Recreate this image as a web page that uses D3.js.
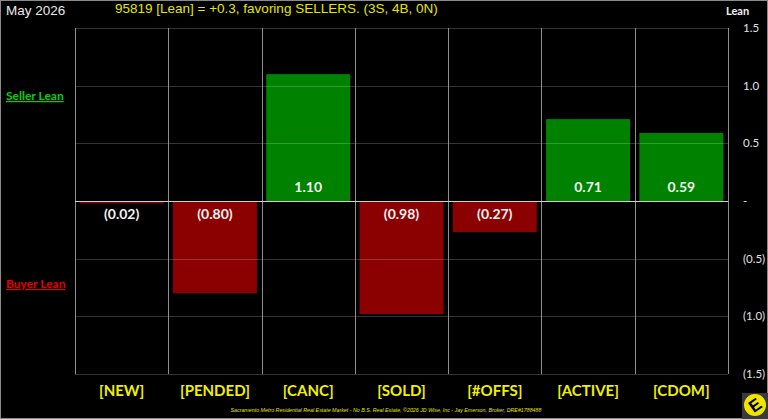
<!DOCTYPE html>
<html>
<head>
<meta charset="utf-8">
<script src="https://cdn.jsdelivr.net/npm/d3@7"></script>
<style>
  body { margin: 0; background: #000; }
  svg { display: block; }
</style>
</head>
<body>
<svg></svg>
<script>
var categories = ["[NEW]", "[PENDED]", "[CANC]", "[SOLD]", "[#OFFS]", "[ACTIVE]", "[CDOM]"];
var values = [-0.02, -0.80, 1.10, -0.98, -0.27, 0.71, 0.59];
var yTicks = [1.5, 1.0, 0.5, 0, -0.5, -1.0, -1.5];
var yTickLabels = ["1.5", "1.0", "0.5", "-", "(0.5)", "(1.0)", "(1.5)"];

var svgWidth = 768, svgHeight = 419;
var margin = {top: 28, right: 40, bottom: 45, left: 75};
var plotW = svgWidth - margin.left - margin.right,
    plotH = svgHeight - margin.top - margin.bottom;

var svg = d3.select("svg")
    .attr("width", svgWidth)
    .attr("height", svgHeight)
    .style("font-family", "Lato, 'Open Sans', sans-serif");

svg.append("rect")
    .attr("x", 0.5).attr("y", 0.5)
    .attr("width", svgWidth - 1).attr("height", svgHeight - 1)
    .attr("fill", "#000")
    .attr("stroke", "#8a8a8a");

var x = d3.scaleBand()
    .domain(categories)
    .range([0, plotW])
    .paddingInner(0.1)
    .paddingOuter(0.05);

var y = d3.scaleLinear()
    .domain([-1.5, 1.5])
    .range([plotH, 0]);

var g = svg.append("g")
    .attr("transform", "translate(" + margin.left + "," + margin.top + ")");

// bars
g.selectAll("rect.bar")
    .data(values)
    .enter()
    .append("rect")
    .attr("class", "bar")
    .attr("x", function(d, i) { return x(categories[i]); })
    .attr("width", x.bandwidth())
    .attr("y", function(d) { return y(Math.max(0, d)); })
    .attr("height", function(d) { return Math.max(1.5, Math.abs(y(d) - y(0))); })
    .attr("fill", function(d) { return d >= 0 ? "#008200" : "#8b0000"; });

// horizontal grid lines (drawn over bars, faint)
g.selectAll("line.hgrid")
    .data(yTicks.filter(function(d) { return d !== 0; }))
    .enter()
    .append("line")
    .attr("x1", 0).attr("x2", plotW)
    .attr("y1", function(d) { return Math.round(y(d)) + 0.5; })
    .attr("y2", function(d) { return Math.round(y(d)) + 0.5; })
    .attr("stroke", "#ffffff")
    .attr("stroke-opacity", 0.2);

// vertical category dividers
var bounds = d3.range(categories.length + 1).map(function(i) { return i * plotW / categories.length; });
g.selectAll("line.vgrid")
    .data(bounds)
    .enter()
    .append("line")
    .attr("x1", function(d) { return Math.round(d) + 0.5; })
    .attr("x2", function(d) { return Math.round(d) + 0.5; })
    .attr("y1", 0).attr("y2", plotH)
    .attr("stroke", "#a8a8a8")
    .attr("stroke-opacity", 0.85);

// zero line
g.append("line")
    .attr("x1", 0).attr("x2", plotW)
    .attr("y1", Math.round(y(0)) + 0.5).attr("y2", Math.round(y(0)) + 0.5)
    .attr("stroke", "#cfcfcf");

// value labels
function fmt(v) {
    return v < 0 ? "(" + Math.abs(v).toFixed(2) + ")" : v.toFixed(2);
}
g.selectAll("text.val")
    .data(values)
    .enter()
    .append("text")
    .attr("class", "val")
    .attr("x", function(d, i) { return x(categories[i]) + x.bandwidth() / 2; })
    .attr("y", function(d) { return d >= 0 ? y(0) - 9 : y(0) + 18; })
    .attr("text-anchor", "middle")
    .attr("fill", "#f2f2f2")
    .attr("font-weight", "bold")
    .attr("font-size", 14)
    .text(fmt);

// category labels
g.selectAll("text.cat")
    .data(categories)
    .enter()
    .append("text")
    .attr("x", function(d) { return x(d) + x.bandwidth() / 2; })
    .attr("y", plotH + 22)
    .attr("text-anchor", "middle")
    .attr("fill", "#f0f000")
    .attr("font-weight", "bold")
    .attr("font-size", 15)
    .text(function(d) { return d; });

// right axis labels
g.selectAll("text.ytick")
    .data(yTicks)
    .enter()
    .append("text")
    .attr("x", plotW + 15)
    .attr("y", function(d) { return y(d) + 4; })
    .attr("fill", "#e0e0e0")
    .attr("font-size", 11.5)
    .text(function(d, i) { return yTickLabels[i]; });

svg.append("text")
    .attr("x", 726).attr("y", 15)
    .attr("fill", "#f2f2f2")
    .attr("font-weight", "bold")
    .attr("font-size", 11)
    .text("Lean");

// titles
svg.append("text")
    .attr("x", 6).attr("y", 15)
    .attr("fill", "#e8e8e8")
    .attr("font-family", "'Liberation Sans', Arial, sans-serif")
    .attr("font-size", 13.5)
    .text("May 2026");

svg.append("text")
    .attr("x", 115).attr("y", 13)
    .attr("fill", "#e6e600")
    .attr("font-family", "'Liberation Sans', Arial, sans-serif")
    .attr("font-size", 13.5)
    .text("95819 [Lean] = +0.3, favoring SELLERS. (3S, 4B, 0N)");

// side lean labels
svg.append("text")
    .attr("x", 6).attr("y", 100)
    .attr("fill", "#00d000")
    .attr("font-weight", "bold")
    .attr("font-size", 12)
    .attr("text-decoration", "underline")
    .text("Seller Lean");

svg.append("text")
    .attr("x", 6).attr("y", 288)
    .attr("fill", "#e00000")
    .attr("font-weight", "bold")
    .attr("font-size", 12)
    .attr("text-decoration", "underline")
    .text("Buyer Lean");

// footer
svg.append("text")
    .attr("x", 386).attr("y", 412)
    .attr("text-anchor", "middle")
    .attr("fill", "#e6e600")
    .attr("font-family", "'Liberation Sans', Arial, sans-serif")
    .attr("font-style", "italic")
    .attr("font-size", 5.3)
    .text("Sacramento Metro Residential Real Estate Market - No B.S. Real Estate, \u00a92026 JD Wise, Inc - Jay Emerson, Broker, DRE#1788488");

// logo
var logo = svg.append("g").attr("transform", "translate(755,405)");
logo.append("rect")
    .attr("x", -13).attr("y", -12)
    .attr("width", 26).attr("height", 26)
    .attr("fill", "#3a3a3a");
logo.append("circle")
    .attr("r", 11)
    .attr("fill", "#f2e600");
logo.append("text")
    .attr("transform", "rotate(-35)")
    .attr("text-anchor", "middle")
    .attr("y", 6)
    .attr("fill", "#000")
    .attr("font-family", "'Liberation Sans', Arial, sans-serif")
    .attr("font-weight", "bold")
    .attr("font-size", 17)
    .text("E");
</script>
</body>
</html>
